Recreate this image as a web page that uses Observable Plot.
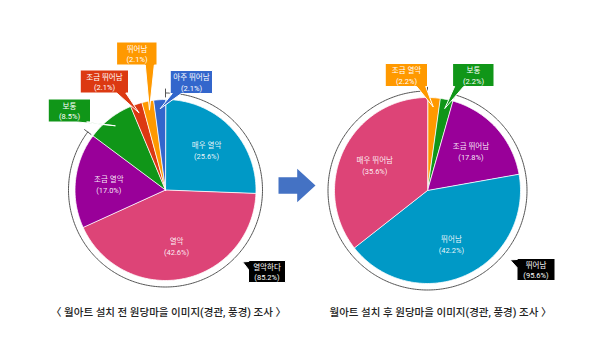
<!DOCTYPE html>
<html><head><meta charset="utf-8">
<script src="https://cdn.jsdelivr.net/npm/d3@7"></script>
<script src="https://cdn.jsdelivr.net/npm/@observablehq/plot@0.6"></script>
<style>
body{margin:0;background:#fff;}
#chart svg{display:block;}
</style>
</head><body><div id="chart"></div>
<script>
// ---------- Data ----------
const beforeCategories = ["매우 열악", "열악", "조금 열악", "보통", "조금 뛰어남", "뛰어남", "아주 뛰어남"];
const beforeValues = [25.6, 42.6, 17.0, 8.5, 2.1, 2.1, 2.1];
const beforeColors = ["#0099c6", "#dd4477", "#990099", "#109618", "#dc3912", "#ff9900", "#3366cc"];
const beforeGroupLabel = "열악하다";
const beforeGroupValue = 85.2;
const beforeGroupMembers = ["매우 열악", "열악", "조금 열악"];

const afterCategories = ["조금 열악", "보통", "조금 뛰어남", "뛰어남", "매우 뛰어남"];
const afterValues = [2.2, 2.2, 17.8, 42.2, 35.6];
const afterColors = ["#ff9900", "#109618", "#990099", "#0099c6", "#dd4477"];
const afterGroupLabel = "뛰어남";
const afterGroupValue = 95.6;
const afterGroupMembers = ["조금 뛰어남", "뛰어남", "매우 뛰어남"];

const captions = [
  "〈 월아트 설치 전 원당마을 이미지(경관, 풍경) 조사 〉",
  "월아트 설치 후 원당마을 이미지(경관, 풍경) 조사 〉"
];

// ---------- Layout (positions / sizes only) ----------
const pieLayout = [
  {cx: 165, cy: 189.5, r: 90.5, ring: 6.5, captionX: 168, captionY: 312},
  {cx: 427, cy: 190, r: 93, ring: 6.5, captionX: 440, captionY: 312}
];
// callout boxes for small slices: box centre, size, tail base position (fraction of bottom edge)
const calloutLayout = [
  [
    {cat: "보통", bx: 69, by: 110, w: 42, h: 23, base: 0.8},
    {cat: "조금 뛰어남", bx: 104, by: 81, w: 48, h: 23, base: 0.85},
    {cat: "뛰어남", bx: 136.5, by: 53, w: 40, h: 23, base: 0.82},
    {cat: "아주 뛰어남", bx: 191, by: 81.5, w: 42, h: 23, base: 0.15}
  ],
  [
    {cat: "조금 열악", bx: 406, by: 74.5, w: 42, h: 23, base: 0.85},
    {cat: "보통", bx: 473, by: 74.5, w: 41, h: 23, base: 0.15}
  ]
];
const groupBoxLayout = [
  {bx: 266.5, by: 271, w: 37, h: 22, tipAngle: 133, tipR: 15},
  {bx: 535.5, by: 269, w: 38, h: 22, tipAngle: 130, tipR: 15}
];
const arrowLayout = {x0: 278, x1: 296.7, x2: 315, yc: 185, shaftHalf: 8.3, headHalf: 16.7};

// ---------- Build ----------
const pies = [
  {cats: beforeCategories, vals: beforeValues, cols: beforeColors, gLabel: beforeGroupLabel, gValue: beforeGroupValue, gMembers: beforeGroupMembers},
  {cats: afterCategories, vals: afterValues, cols: afterColors, gLabel: afterGroupLabel, gValue: afterGroupValue, gMembers: afterGroupMembers}
];

const slicePts = [], insideLabels = [], bubblePts = [], bubbleText = [], ringPts = [], tickPts = [], captionRows = [];
const deg = Math.PI / 180;

pies.forEach((p, pi) => {
  const L = pieLayout[pi];
  const arcs = d3.pie().sort(null).value(d => d)(p.vals);
  const pt = (a, r) => ({x: L.cx + r * Math.sin(a), y: L.cy - r * Math.cos(a)});
  arcs.forEach((a, i) => {
    const id = pi + "-" + i;
    const color = p.cols[i];
    slicePts.push({id, x: L.cx, y: L.cy, color});
    const n = Math.max(2, Math.ceil((a.endAngle - a.startAngle) / deg));
    for (let k = 0; k <= n; k++) {
      const t = a.startAngle + (a.endAngle - a.startAngle) * k / n;
      slicePts.push({id, ...pt(t, L.r), color});
    }
    const mid = (a.startAngle + a.endAngle) / 2;
    const label = `${p.cats[i]}\n(${p.vals[i].toFixed(1)}%)`;
    if (p.vals[i] >= 10) {
      insideLabels.push({...pt(mid, L.r * 0.63), text: label});
    } else {
      const c = calloutLayout[pi].find(d => d.cat === p.cats[i]);
      if (!c) return;
      const x1 = c.bx - c.w / 2, x2 = c.bx + c.w / 2, y1 = c.by - c.h / 2, y2 = c.by + c.h / 2;
      const bx = x1 + c.w * c.base, hw = 4.5;
      const tip = pt(mid, L.r * 0.9);
      const bid = "b" + id;
      [[x1, y1], [x2, y1], [x2, y2], [Math.min(bx + hw, x2), y2], [tip.x, tip.y], [Math.max(bx - hw, x1), y2], [x1, y2]]
        .forEach(([x, y]) => bubblePts.push({id: bid, x, y, color}));
      bubbleText.push({x: c.bx, y: c.by, text: label});
    }
  });
  // group ring (bracket)
  const members = arcs.filter((a, i) => p.gMembers.includes(p.cats[i]));
  const a0 = d3.min(members, a => a.startAngle), a1 = d3.max(members, a => a.endAngle);
  const rr = L.r + L.ring;
  const n = Math.ceil((a1 - a0) / deg);
  for (let k = 0; k <= n; k++) ringPts.push({id: "r" + pi, ...pt(a0 + (a1 - a0) * k / n, rr)});
  [a0, a1].forEach((a, j) => {
    tickPts.push({id: `t${pi}${j}`, ...pt(a, rr - 4)});
    tickPts.push({id: `t${pi}${j}`, ...pt(a, rr + 4)});
  });
  // group bubble (black)
  const G = groupBoxLayout[pi];
  const gx1 = G.bx - G.w / 2, gx2 = G.bx + G.w / 2, gy1 = G.by - G.h / 2, gy2 = G.by + G.h / 2;
  const tip = pt(G.tipAngle * deg, L.r + G.tipR);
  [[gx1, gy1], [gx2, gy1], [gx2, gy2], [gx1, gy2], [gx1, gy1 + 9], [tip.x, tip.y], [gx1, gy1 + 1]]
    .forEach(([x, y]) => bubblePts.push({id: "g" + pi, x, y, color: "#000"}));
  bubbleText.push({x: G.bx, y: G.by, text: `${p.gLabel}\n(${p.gValue.toFixed(1)}%)`});
  captionRows.push({x: L.captionX, y: L.captionY, text: captions[pi]});
});

const A = arrowLayout;
const arrowPts = [
  [A.x0, A.yc - A.shaftHalf], [A.x1, A.yc - A.shaftHalf], [A.x1, A.yc - A.headHalf], [A.x2, A.yc],
  [A.x1, A.yc + A.headHalf], [A.x1, A.yc + A.shaftHalf], [A.x0, A.yc + A.shaftHalf]
].map(([x, y]) => ({x, y}));

const chart = Plot.plot({
  width: 600,
  height: 352,
  margin: 0,
  x: {domain: [0, 600], axis: null},
  y: {domain: [0, 352], range: [0, 352], axis: null},
  color: {type: "identity"},
  style: {fontFamily: "Roboto, 'Noto Sans CJK KR', sans-serif", background: "#fff"},
  marks: [
    Plot.line(slicePts, {x: "x", y: "y", z: "id", fill: "color", stroke: "#fff", strokeWidth: 0.8, curve: "linear-closed"}),
    Plot.line(ringPts, {x: "x", y: "y", z: "id", stroke: "#555", strokeWidth: 1}),
    Plot.line(tickPts, {x: "x", y: "y", z: "id", stroke: "#555", strokeWidth: 1}),
    Plot.line(bubblePts, {x: "x", y: "y", z: "id", fill: "color", stroke: "#fff", strokeWidth: 1, strokeLinejoin: "miter", curve: "linear-closed"}),
    Plot.line(arrowPts, {x: "x", y: "y", fill: "#4472c4", stroke: "none", curve: "linear-closed"}),
    Plot.text(insideLabels, {x: "x", y: "y", text: "text", fill: "#fff", fillOpacity: 0.92, fontSize: 7.5, lineHeight: 1.45}),
    Plot.text(bubbleText, {x: "x", y: "y", text: "text", fill: "#fff", fontSize: 7.5, lineHeight: 1.45}),
    Plot.text(captionRows, {x: "x", y: "y", text: "text", fill: "#222", fontSize: 10.5, fontWeight: 500})
  ]
});
document.getElementById("chart").append(chart);
</script>
</body></html>
